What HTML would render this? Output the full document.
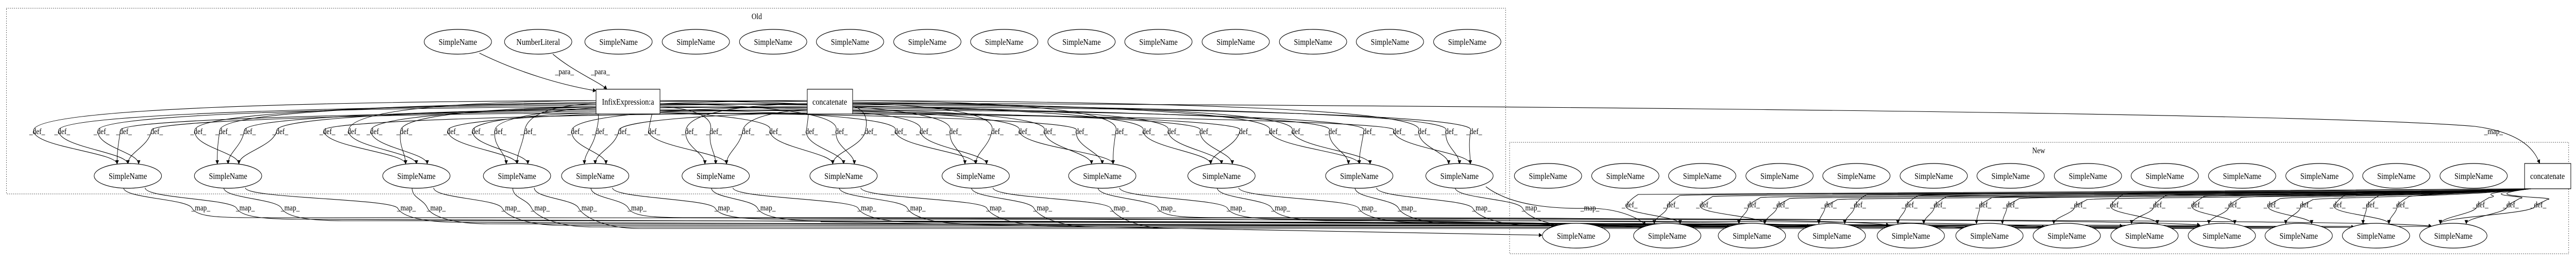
<!DOCTYPE html>
<html><head><meta charset="utf-8"><style>
html,body{margin:0;padding:0;background:#fff;width:100%;height:100%;overflow:hidden;}
svg{display:block;width:100vw;height:100vh;overflow:hidden}
text{font-family:"Liberation Serif",serif;fill:#000}
</style></head><body>
<svg id="g" viewBox="0 0 5964 508" preserveAspectRatio="none" xmlns="http://www.w3.org/2000/svg">
<defs><marker id="ah" viewBox="0 0 10 10" refX="9" refY="5" markerWidth="10" markerHeight="8" markerUnits="userSpaceOnUse" orient="auto"><path d="M0,0 L10,5 L0,10 z" fill="#000"/></marker></defs>
<rect x="15" y="16" width="3471" height="360" fill="none" stroke="#000" stroke-dasharray="1.5,3"/>
<rect x="3495" y="276" width="2452" height="216" fill="none" stroke="#000" stroke-dasharray="1.5,3"/>
<text x="1752" y="37" font-size="16" text-anchor="middle">Old</text>
<text x="4720" y="297" font-size="16" text-anchor="middle">New</text>
<g id="edges" fill="none" stroke="#000" stroke-width="1.1"></g>
<g id="nodes" fill="#fff" stroke="#000" stroke-width="1.2"></g>
<g font-size="16" text-anchor="middle">
<text x="1307" y="144">_para_</text><text x="1390" y="144">_para_</text>
<text x="5773" y="260">_map_</text>
<text x="86" y="260">_def_</text><text x="144" y="260">_def_</text><text x="235" y="260">_def_</text><text x="287" y="260">_def_</text><text x="359" y="260">_def_</text><text x="459" y="260">_def_</text><text x="517" y="260">_def_</text><text x="574" y="260">_def_</text><text x="649" y="260">_def_</text><text x="758" y="260">_def_</text><text x="815" y="260">_def_</text><text x="867" y="260">_def_</text><text x="936" y="260">_def_</text><text x="1045" y="260">_def_</text><text x="1102" y="260">_def_</text><text x="1154" y="260">_def_</text><text x="1223" y="260">_def_</text><text x="1332" y="260">_def_</text><text x="1389" y="260">_def_</text><text x="1441" y="260">_def_</text><text x="1510" y="260">_def_</text><text x="1596" y="260">_def_</text><text x="1653" y="260">_def_</text><text x="1728" y="260">_def_</text><text x="1791" y="260">_def_</text><text x="1875" y="260">_def_</text><text x="1944" y="260">_def_</text><text x="2012" y="260">_def_</text><text x="2081" y="260">_def_</text><text x="2139" y="260">_def_</text><text x="2208" y="260">_def_</text><text x="2305" y="260">_def_</text><text x="2368" y="260">_def_</text><text x="2426" y="260">_def_</text><text x="2500" y="260">_def_</text><text x="2592" y="260">_def_</text><text x="2655" y="260">_def_</text><text x="2713" y="260">_def_</text><text x="2787" y="260">_def_</text><text x="2879" y="260">_def_</text><text x="2948" y="260">_def_</text><text x="3000" y="260">_def_</text><text x="3086" y="260">_def_</text><text x="3166" y="260">_def_</text><text x="3235" y="260">_def_</text><text x="3293" y="260">_def_</text><text x="3356" y="260">_def_</text><text x="3413" y="260">_def_</text>
<text x="465" y="408">_map_</text><text x="568" y="408">_map_</text><text x="672" y="408">_map_</text><text x="941" y="408">_map_</text><text x="1010" y="408">_map_</text><text x="1183" y="408">_map_</text><text x="1251" y="408">_map_</text><text x="1360" y="408">_map_</text><text x="1475" y="408">_map_</text><text x="1676" y="408">_map_</text><text x="1774" y="408">_map_</text><text x="2007" y="408">_map_</text><text x="2121" y="408">_map_</text><text x="2305" y="408">_map_</text><text x="2414" y="408">_map_</text><text x="2592" y="408">_map_</text><text x="2701" y="408">_map_</text><text x="2862" y="408">_map_</text><text x="2965" y="408">_map_</text><text x="3166" y="408">_map_</text><text x="3258" y="408">_map_</text><text x="3430" y="408">_map_</text><text x="3545" y="408">_map_</text><text x="3681" y="408">_map_</text>
<text x="3773" y="402">_def_</text><text x="3869" y="402">_def_</text><text x="3945" y="402">_def_</text><text x="4056" y="402">_def_</text><text x="4123" y="402">_def_</text><text x="4234" y="402">_def_</text><text x="4302" y="402">_def_</text><text x="4421" y="402">_def_</text><text x="4487" y="402">_def_</text><text x="4592" y="402">_def_</text><text x="4655" y="402">_def_</text><text x="4812" y="402">_def_</text><text x="4895" y="402">_def_</text><text x="4995" y="402">_def_</text><text x="5083" y="402">_def_</text><text x="5169" y="402">_def_</text><text x="5259" y="402">_def_</text><text x="5335" y="402">_def_</text><text x="5412" y="402">_def_</text><text x="5488" y="402">_def_</text><text x="5558" y="402">_def_</text><text x="5743" y="402">_def_</text><text x="5813" y="402">_def_</text><text x="5877" y="402">_def_</text>
</g>
<g font-size="17" text-anchor="middle">
<text x="1060" y="87">SimpleName</text><text x="1246" y="87">NumberLiteral</text>
<text x="1432" y="87">SimpleName</text><text x="1611" y="87">SimpleName</text><text x="1790" y="87">SimpleName</text><text x="1968" y="87">SimpleName</text><text x="2147" y="87">SimpleName</text><text x="2325" y="87">SimpleName</text><text x="2504" y="87">SimpleName</text><text x="2682" y="87">SimpleName</text><text x="2861" y="87">SimpleName</text><text x="3040" y="87">SimpleName</text><text x="3218" y="87">SimpleName</text><text x="3397" y="87">SimpleName</text>
<text x="1454" y="203">InfixExpression:a</text><text x="1921" y="203">concatenate</text><text x="5898" y="347">concatenate</text>
<text x="296" y="347">SimpleName</text><text x="528" y="347">SimpleName</text><text x="964" y="347">SimpleName</text><text x="1197" y="347">SimpleName</text><text x="1378" y="347">SimpleName</text><text x="1657" y="347">SimpleName</text><text x="1953" y="347">SimpleName</text><text x="2259" y="347">SimpleName</text><text x="2552" y="347">SimpleName</text><text x="2828" y="347">SimpleName</text><text x="3147" y="347">SimpleName</text><text x="3379" y="347">SimpleName</text>
<text x="3584" y="347">SimpleName</text><text x="3763" y="347">SimpleName</text><text x="3941" y="347">SimpleName</text><text x="4120" y="347">SimpleName</text><text x="4298" y="347">SimpleName</text><text x="4477" y="347">SimpleName</text><text x="4655" y="347">SimpleName</text><text x="4834" y="347">SimpleName</text><text x="5012" y="347">SimpleName</text><text x="5191" y="347">SimpleName</text><text x="5370" y="347">SimpleName</text><text x="5548" y="347">SimpleName</text><text x="5727" y="347">SimpleName</text>
<text x="3649" y="463">SimpleName</text><text x="3860" y="463">SimpleName</text><text x="4056" y="463">SimpleName</text><text x="4241" y="463">SimpleName</text><text x="4424" y="463">SimpleName</text><text x="4606" y="463">SimpleName</text><text x="4785" y="463">SimpleName</text><text x="4965" y="463">SimpleName</text><text x="5144" y="463">SimpleName</text><text x="5322" y="463">SimpleName</text><text x="5501" y="463">SimpleName</text><text x="5680" y="463">SimpleName</text>
</g>
</svg>
<script>
(function(){
var NS="http://www.w3.org/2000/svg";
var E=document.getElementById('edges'),N=document.getElementById('nodes');
function path(d,a){var p=document.createElementNS(NS,'path');p.setAttribute('d',d);if(a!==false)p.setAttribute('marker-end','url(#ah)');E.appendChild(p);}
function ell(x,y){var e=document.createElementNS(NS,'ellipse');e.setAttribute('cx',x);e.setAttribute('cy',y);e.setAttribute('rx',78);e.setAttribute('ry',24);N.appendChild(e);}
function rect(x,y,w,h){var r=document.createElementNS(NS,'rect');r.setAttribute('x',x);r.setAttribute('y',y);r.setAttribute('width',w);r.setAttribute('height',h);N.appendChild(r);}
var top=[1060,1246,1432,1611,1790,1968,2147,2325,2504,2682,2861,3040,3218,3397];
top.forEach(function(x){ell(x,81);});
var ob=[296,528,964,1197,1378,1657,1953,2259,2552,2828,3147,3379];
ob.forEach(function(x){ell(x,341);});
var nt=[3584,3763,3941,4120,4298,4477,4655,4834,5012,5191,5370,5548,5727];
nt.forEach(function(x){ell(x,341);});
var nb=[3649,3860,4056,4241,4424,4606,4785,4965,5144,5322,5501,5680];
nb.forEach(function(x){ell(x,457);});
rect(1380,173,148,48);rect(1869,173,105,48);rect(5845,317,107,49);
path("M1110,103 C1200,140 1300,165 1380,176");
path("M1280,105 C1330,140 1390,160 1405,173");
var dl=[86,144,235,287,359,459,517,574,649,758,815,867,936,1045,1102,1154,1223,1332,1389,1441,1510,1596,1653,1728,1791,1875,1944,2012,2081,2139,2208,2305,2368,2426,2500,2592,2655,2713,2787,2879,2948,3000,3086,3166,3235,3293,3356,3413];
dl.forEach(function(L,i){
  var best=0,bd=1e9;ob.forEach(function(x,j){var d=Math.abs((L+40)-x);if(d<bd){bd=d;best=j;}});
  var tx=ob[best]+((i%3)-1)*25;
  var inf=(i%2==0);var sx=inf?(L<1454?1380:1528):(L<1921?1869:1974);
  var sy=195+(i%5)*6;
  path("M"+sx+","+sy+" C"+((sx+L)/2)+","+(sy+2)+" "+L+","+(sy+15)+" "+(L-8)+",252 C"+(L-14)+",285 "+tx+",295 "+tx+",318");
});
var ml=[465,568,672,941,1010,1183,1251,1360,1475,1676,1774,2007,2121,2305,2414,2592,2701,2862,2965,3166,3258,3430,3545];
ml.forEach(function(L,i){
  var s=ob[Math.min(11,Math.floor(i/2))];var sx=s+(i%2?40:-10);
  var t=nb[(i*7)%12];var ty=437+(i%4)*2;
  var hy=422+(i%8)*3;
  path("M"+sx+",364 C"+sx+",385 "+(L-30)+",385 "+(L-20)+",404 C"+(L-10)+",420 "+(L+40)+","+hy+" "+(L+120)+","+hy+" C"+((L+t)/2)+","+hy+" "+(t-120)+","+(hy+2)+" "+(t-50)+","+ty);
});
path("M1900,430 C2500,440 3300,450 3570,456");
path("M3440,362 C3500,400 3600,405 3681,404 C3750,404 3800,425 3810,437");
path("M1974,200 C3000,203 5300,215 5730,245 C5845,258 5870,295 5880,317");
var nd=[3773,3869,3945,4056,4123,4234,4302,4421,4487,4592,4655,4812,4895,4995,5083,5169,5259,5335,5412,5488,5558,5743,5813,5877];
nd.forEach(function(L,i){
  var best=0,bd=1e9;nb.forEach(function(x,j){var d=Math.abs((L+20)-x);if(d<bd){bd=d;best=j;}});
  var tx=nb[best]+((i%2)?-30:30);var hy=372+(i%6)*2;
  path("M5860,366 C5700,"+hy+" "+(L+60)+","+hy+" "+(L+20)+","+(hy+5)+" C"+(L)+","+(hy+15)+" "+(L-5)+",395 "+(L-8)+",400 C"+(L-10)+",415 "+tx+",420 "+tx+",434");
});
})();
</script>
</body></html>
